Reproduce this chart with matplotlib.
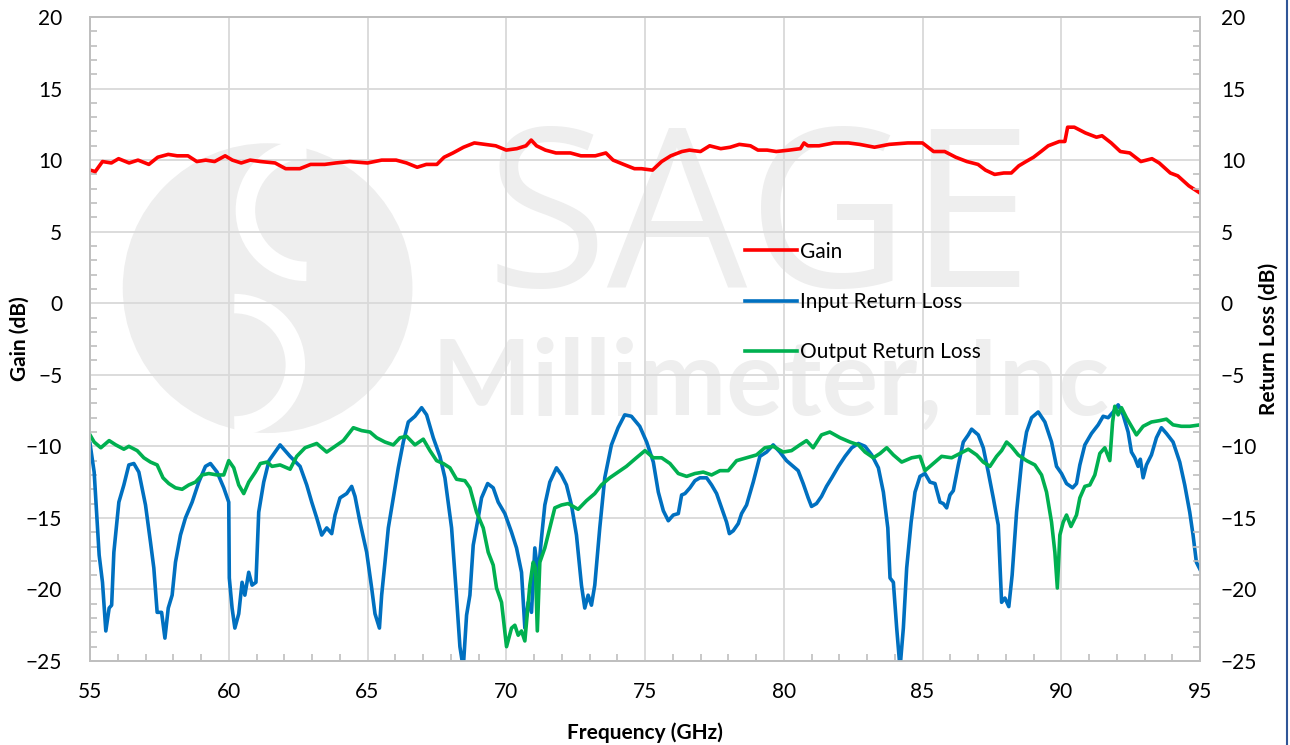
import matplotlib.pyplot as plt
from matplotlib.patches import Ellipse, Arc
from matplotlib.lines import Line2D
from matplotlib.ticker import MultipleLocator

# Gain trace (GHz, dB)
gain_freq = [55.0, 55.19, 55.45, 55.77, 56.03, 56.41, 56.73, 57.12, 57.44, 57.82, 58.14, 58.53,
             58.85, 59.17, 59.49, 59.87, 60.13, 60.45, 60.77, 61.15, 61.67, 62.05, 62.56, 62.95,
             63.46, 63.85, 64.36, 65.0, 65.51, 66.03, 66.41, 66.79, 67.12, 67.5, 67.76, 68.08,
             68.46, 68.85, 69.23, 69.62, 70.0, 70.38, 70.71, 70.9, 71.09, 71.41, 71.79, 72.31,
             72.69, 73.21, 73.59, 73.85, 74.23, 74.62, 74.87, 75.27, 75.6, 75.93, 76.33, 76.6,
             77.0, 77.33, 77.73, 78.07, 78.4, 78.8, 79.07, 79.4, 79.73, 80.2, 80.6, 80.73,
             80.87, 81.27, 81.8, 82.33, 82.73, 83.27, 83.8, 84.47, 85.0, 85.4, 85.8, 86.2,
             86.6, 87.0, 87.27, 87.6, 87.93, 88.2, 88.47, 88.73, 89.0, 89.27, 89.53, 89.93,
             90.13, 90.23, 90.47, 90.87, 91.27, 91.47, 91.8, 92.13, 92.47, 92.87, 93.27, 93.53,
             93.93, 94.2, 94.6, 95.0]
gain_db = [9.3, 9.2, 9.9, 9.8, 10.1, 9.8, 10.0, 9.7, 10.2, 10.4, 10.3, 10.3,
           9.9, 10.0, 9.9, 10.3, 10.0, 9.8, 10.0, 9.9, 9.8, 9.4, 9.4, 9.7,
           9.7, 9.8, 9.9, 9.8, 10.0, 10.0, 9.8, 9.5, 9.7, 9.7, 10.2, 10.5,
           10.9, 11.2, 11.1, 11.0, 10.7, 10.8, 11.0, 11.4, 11.0, 10.7, 10.5, 10.5,
           10.3, 10.3, 10.5, 10.0, 9.7, 9.4, 9.4, 9.3, 9.9, 10.3, 10.6, 10.7,
           10.6, 11.0, 10.8, 10.9, 11.1, 11.0, 10.7, 10.7, 10.6, 10.7, 10.8, 11.2,
           11.0, 11.0, 11.2, 11.2, 11.1, 10.9, 11.1, 11.2, 11.2, 10.6, 10.6, 10.2,
           9.9, 9.7, 9.3, 9.0, 9.1, 9.1, 9.6, 9.9, 10.2, 10.6, 11.0, 11.3,
           11.3, 12.3, 12.3, 11.9, 11.6, 11.7, 11.2, 10.6, 10.5, 9.9, 10.1, 9.8,
           9.1, 8.9, 8.2, 7.7]

# Input return loss (GHz, dB)
irl_freq = [55.0, 55.15, 55.33, 55.45, 55.57, 55.69, 55.78, 55.86, 56.04, 56.22, 56.4, 56.58,
            56.76, 57.0, 57.18, 57.3, 57.42, 57.58, 57.7, 57.82, 57.96, 58.08, 58.26, 58.44,
            58.68, 58.92, 59.16, 59.34, 59.58, 59.82, 60.0, 60.02, 60.12, 60.22, 60.36, 60.48,
            60.58, 60.72, 60.84, 60.98, 61.08, 61.26, 61.45, 61.85, 62.21, 62.57, 62.81, 62.99,
            63.17, 63.35, 63.53, 63.71, 63.83, 64.01, 64.25, 64.43, 64.55, 64.73, 64.97, 65.15,
            65.27, 65.43, 65.51, 65.63, 65.75, 65.93, 66.11, 66.29, 66.47, 66.71, 66.95, 67.13,
            67.37, 67.61, 67.79, 68.03, 68.19, 68.33, 68.45, 68.57, 68.69, 68.81, 68.99, 69.11,
            69.33, 69.53, 69.71, 69.95, 70.19, 70.37, 70.55, 70.67, 70.79, 70.91, 71.03, 71.15,
            71.27, 71.39, 71.57, 71.81, 71.99, 72.17, 72.35, 72.53, 72.71, 72.83, 72.95, 73.07,
            73.19, 73.37, 73.55, 73.79, 74.03, 74.27, 74.51, 74.81, 75.06, 75.3, 75.48, 75.66,
            75.84, 76.02, 76.2, 76.32, 76.44, 76.62, 76.8, 76.98, 77.22, 77.4, 77.58, 77.76,
            77.94, 78.04, 78.18, 78.36, 78.48, 78.66, 78.9, 79.14, 79.38, 79.62, 79.86, 80.1,
            80.34, 80.52, 80.7, 80.88, 81.0, 81.18, 81.36, 81.54, 81.73, 81.97, 82.21, 82.45,
            82.69, 82.93, 83.17, 83.41, 83.59, 83.75, 83.83, 83.95, 84.07, 84.19, 84.31, 84.43,
            84.59, 84.73, 84.91, 85.09, 85.27, 85.45, 85.63, 85.75, 85.87, 85.99, 86.11, 86.29,
            86.47, 86.65, 86.77, 87.01, 87.19, 87.37, 87.55, 87.73, 87.85, 87.97, 88.11, 88.23,
            88.39, 88.57, 88.75, 88.93, 89.17, 89.41, 89.65, 89.83, 90.01, 90.19, 90.41, 90.55,
            90.67, 90.85, 91.09, 91.33, 91.51, 91.69, 91.87, 92.05, 92.23, 92.41, 92.53, 92.65,
            92.77, 92.85, 92.95, 93.07, 93.25, 93.43, 93.61, 93.79, 94.03, 94.27, 94.45, 94.63,
            94.75, 94.87, 95.0]
irl_db = [-9.8, -11.8, -17.6, -19.5, -22.9, -21.3, -21.1, -17.4, -13.9, -12.7, -11.3, -11.2,
          -11.8, -14.1, -16.7, -18.5, -21.6, -21.6, -23.4, -21.3, -20.4, -18.1, -16.2, -15.0,
          -13.9, -12.5, -11.4, -11.2, -11.8, -12.9, -13.9, -19.2, -21.3, -22.7, -21.7, -19.5,
          -20.4, -18.8, -19.7, -19.5, -14.6, -12.5, -11.0, -9.9, -10.7, -11.4, -12.7, -13.9,
          -15.0, -16.2, -15.7, -16.1, -14.8, -13.6, -13.3, -12.8, -13.5, -15.3, -17.4, -19.9,
          -21.7, -22.7, -20.4, -18.1, -15.7, -13.6, -11.5, -9.7, -8.3, -7.9, -7.3, -7.8,
          -9.4, -10.7, -12.2, -15.7, -20.0, -24.0, -25.5, -21.8, -20.4, -16.9, -15.0, -13.6,
          -12.6, -12.9, -13.9, -14.7, -16.0, -17.1, -18.8, -22.7, -20.9, -21.6, -17.1, -19.0,
          -16.4, -14.1, -12.5, -11.5, -12.0, -12.7, -14.1, -16.2, -19.7, -21.3, -20.4, -21.1,
          -19.7, -15.7, -12.2, -9.9, -8.7, -7.8, -7.9, -8.6, -9.7, -11.1, -13.2, -14.5,
          -15.2, -14.8, -14.7, -13.4, -13.3, -12.9, -12.4, -12.2, -12.2, -12.7, -13.3, -14.3,
          -15.3, -16.1, -15.9, -15.4, -14.7, -14.1, -12.5, -10.7, -10.4, -9.9, -10.4, -11.0,
          -11.4, -11.7, -12.6, -13.6, -14.2, -14.0, -13.5, -12.8, -12.2, -11.4, -10.7, -10.1,
          -9.8, -10.0, -10.6, -11.5, -13.2, -15.7, -19.2, -19.5, -22.7, -25.5, -22.7, -18.5,
          -15.3, -13.2, -12.1, -11.9, -12.5, -12.6, -13.9, -14.0, -14.3, -13.4, -13.1, -11.3,
          -9.7, -9.2, -8.8, -9.2, -10.1, -11.8, -13.6, -15.5, -20.9, -20.6, -21.2, -19.0,
          -14.6, -11.1, -9.0, -8.0, -7.6, -8.3, -9.7, -11.4, -11.9, -12.6, -12.9, -12.6,
          -11.3, -9.9, -9.1, -8.5, -7.9, -8.0, -7.6, -7.1, -7.8, -9.0, -10.4, -10.8,
          -11.4, -10.9, -12.2, -11.3, -10.6, -9.4, -8.7, -9.1, -9.7, -11.1, -12.7, -14.6,
          -16.2, -18.1, -18.6]

# Output return loss (GHz, dB)
orl_freq = [55.0, 55.15, 55.39, 55.69, 55.93, 56.22, 56.4, 56.7, 56.94, 57.18, 57.42, 57.63,
            57.84, 58.08, 58.32, 58.56, 58.8, 59.04, 59.28, 59.58, 59.82, 60.0, 60.18, 60.36,
            60.54, 60.72, 60.96, 61.14, 61.38, 61.56, 61.85, 62.21, 62.45, 62.75, 63.17, 63.53,
            63.83, 64.13, 64.49, 64.79, 65.09, 65.33, 65.63, 65.93, 66.17, 66.41, 66.71, 67.01,
            67.25, 67.49, 67.73, 67.97, 68.21, 68.51, 68.69, 68.93, 69.17, 69.35, 69.53, 69.65,
            69.83, 70.01, 70.19, 70.31, 70.43, 70.55, 70.67, 70.85, 70.97, 71.05, 71.12, 71.21,
            71.39, 71.57, 71.75, 71.99, 72.23, 72.59, 72.89, 73.19, 73.43, 73.73, 74.03, 74.33,
            74.69, 75.0, 75.3, 75.6, 75.9, 76.2, 76.5, 76.8, 77.1, 77.4, 77.7, 78.0,
            78.3, 78.66, 79.02, 79.32, 79.62, 79.98, 80.28, 80.58, 80.82, 81.06, 81.36, 81.66,
            82.03, 82.39, 82.69, 82.93, 83.23, 83.47, 83.71, 83.95, 84.25, 84.61, 84.91, 85.09,
            85.33, 85.69, 86.05, 86.35, 86.65, 86.95, 87.19, 87.43, 87.67, 87.85, 88.03, 88.2,
            88.45, 88.75, 89.05, 89.29, 89.47, 89.65, 89.77, 89.86, 89.95, 90.07, 90.19, 90.35,
            90.55, 90.67, 90.85, 91.03, 91.21, 91.39, 91.57, 91.75, 91.85, 91.93, 92.05, 92.17,
            92.35, 92.53, 92.71, 92.95, 93.25, 93.55, 93.79, 94.03, 94.33, 94.63, 95.0]
orl_db = [-9.2, -9.7, -10.1, -9.6, -9.9, -10.2, -10.0, -10.3, -10.8, -11.1, -11.3, -12.2,
          -12.6, -12.9, -13.0, -12.7, -12.5, -12.0, -11.9, -12.0, -12.0, -11.0, -11.5, -12.7,
          -13.3, -12.5, -11.8, -11.2, -11.1, -11.4, -11.3, -11.6, -10.7, -10.1, -9.8, -10.4,
          -10.0, -9.6, -8.7, -8.9, -9.0, -9.4, -9.7, -9.9, -9.4, -9.3, -9.9, -9.5,
          -10.3, -11.0, -11.2, -11.5, -12.3, -12.4, -12.9, -14.6, -15.7, -17.4, -18.3, -19.9,
          -20.9, -24.0, -22.7, -22.5, -23.2, -22.9, -23.6, -19.7, -18.1, -18.5, -22.9, -18.1,
          -17.1, -15.7, -14.3, -14.1, -14.0, -14.4, -13.8, -13.3, -12.7, -12.2, -11.8, -11.4,
          -10.8, -10.3, -10.8, -10.8, -11.2, -11.9, -12.1, -11.9, -11.8, -12.0, -11.7, -11.7,
          -11.0, -10.8, -10.6, -10.1, -10.0, -10.4, -10.3, -9.9, -9.6, -10.1, -9.2, -9.0,
          -9.4, -9.7, -9.9, -10.4, -10.8, -10.5, -10.1, -10.6, -11.1, -10.8, -10.7, -11.7,
          -11.3, -10.7, -10.8, -10.5, -10.2, -10.6, -11.1, -11.4, -10.7, -10.3, -9.7, -10.0,
          -10.6, -11.0, -11.3, -12.0, -13.2, -15.3, -17.4, -19.9, -16.2, -15.3, -14.8, -15.6,
          -14.8, -13.6, -12.8, -12.7, -12.0, -10.5, -10.1, -11.0, -8.3, -7.2, -7.8, -7.3,
          -8.0, -8.6, -9.2, -8.6, -8.3, -8.2, -8.1, -8.5, -8.6, -8.6, -8.5]

plt.rcParams['font.family'] = ['Lato', 'DejaVu Sans']

fig = plt.figure(figsize=(12.9, 7.45), dpi=100)
ax = fig.add_axes([90 / 1290, 1 - 661 / 745, 1110 / 1290, 644 / 745])
axr = ax.twinx()

# faint company watermark behind the traces
wm = '#eeeeee'
ax.add_patch(Ellipse((0.160, 0.579), 0.261, 0.450, transform=ax.transAxes,
                     facecolor=wm, edgecolor='none', zorder=0))
ax.add_patch(Arc((0.195, 0.700), 0.110, 0.190, theta1=90, theta2=270, transform=ax.transAxes,
                 color='white', lw=14, zorder=0))
ax.add_patch(Arc((0.130, 0.460), 0.110, 0.190, theta1=-90, theta2=90, transform=ax.transAxes,
                 color='white', lw=14, zorder=0))
ax.text(0.603, 0.670, 'SAGE', transform=ax.transAxes, ha='center', va='center',
        fontsize=160, color=wm, zorder=0, fontfamily='Open Sans')
ax.text(0.613, 0.429, 'Millimeter, Inc', transform=ax.transAxes, ha='center', va='center',
        fontsize=76, color=wm, fontweight='bold', zorder=0)

ax.plot(gain_freq, gain_db, color='#ff0000', lw=2.6, label='Gain', zorder=3)
ax.plot(irl_freq, irl_db, color='#0070c0', lw=2.6, label='Input Return Loss', zorder=3)
ax.plot(orl_freq, orl_db, color='#00b050', lw=2.6, label='Output Return Loss', zorder=3)

ax.set_xlim(55, 95)
for a in (ax, axr):
    a.set_ylim(-25, 20)
    a.yaxis.set_major_locator(MultipleLocator(5))
    a.yaxis.set_minor_locator(MultipleLocator(1))
    for s in a.spines.values():
        s.set_color('#bfbfbf')
        s.set_linewidth(1.3)
    a.tick_params(which='both', direction='in', color='#bfbfbf', labelsize=15)
    a.tick_params(which='major', length=0, pad=20)
    a.tick_params(which='minor', length=5, width=1.2)
axr.tick_params(which='major', pad=15)
ax.xaxis.set_major_locator(MultipleLocator(5))
ax.xaxis.set_minor_locator(MultipleLocator(1))
ax.tick_params(axis='x', which='major', pad=15)
ax.grid(True, which='major', color='#d9d9d9', lw=1.3, zorder=1)
ax.set_axisbelow(True)

ax.set_xlabel('Frequency (GHz)', fontsize=15, fontweight='bold', labelpad=15)
ax.set_ylabel('Gain (dB)', fontsize=15, fontweight='bold')
ax.yaxis.set_label_coords(-0.054, 0.5)
axr.set_ylabel('Return Loss (dB)', fontsize=15, fontweight='bold')
axr.yaxis.set_label_coords(1.053, 0.5)

ax.legend(loc='upper left', bbox_to_anchor=(0.590, 0.651), frameon=False, fontsize=15,
          borderpad=0, borderaxespad=0, handlelength=2.5, handletextpad=0.15,
          labelspacing=1.45)

fig.add_artist(Line2D([0.9975, 0.9975], [0, 1], color='#2f5597', lw=1.5))

fig.savefig('out.png', dpi=100)
